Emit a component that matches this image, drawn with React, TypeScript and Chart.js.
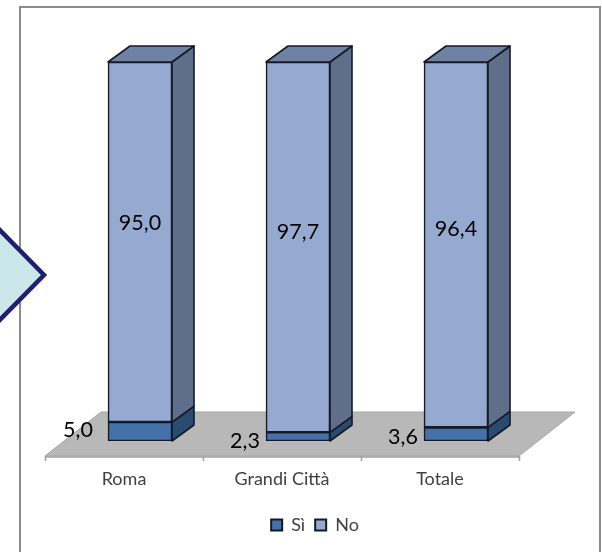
import { useEffect, useRef } from "react";
import { Chart, registerables } from "chart.js";
import type { Plugin } from "chart.js";

Chart.register(...registerables);

// Percentage shares per area, printed with a decimal comma.
const categories = ["Roma", "Grandi Città", "Totale"];
const seriesNames = ["Sì", "No"];
const siValues = [5.0, 2.3, 3.6];
const noValues = [95.0, 97.7, 96.4];

// Nudges for the value labels, relative to the centre of each bar segment.
const siLabelShift = [
  [-62, -1],
  [-53, 4],
  [-53, 3],
];
const noLabelShift = [
  [0, -19],
  [0, -15],
  [0, -16],
];

const FONT = "Lato, 'Open Sans', sans-serif";
const DEPTH_X = 22;
const DEPTH_Y = -16;
const FLOOR_DX = -16;
const FLOOR_DY = 15;

const FRONT = ["#4472A8", "#95A9D1"];
const SIDE = ["#2B4A70", "#5F6F8B"];
const TOP = ["#35598A", "#6F82A4"];
const OUTLINE = "#141A26";

function poly(ctx: CanvasRenderingContext2D, pts: number[][]) {
  ctx.beginPath();
  pts.forEach(([x, y], i) => (i ? ctx.lineTo(x, y) : ctx.moveTo(x, y)));
  ctx.closePath();
}

// Frame, floor plane, axis ticks and the receding faces of each column.
const depthPlugin: Plugin<"bar"> = {
  id: "depth",
  beforeDraw(chart) {
    const { ctx, width, height } = chart;
    ctx.save();
    ctx.fillStyle = "#ffffff";
    ctx.fillRect(0, 0, width, height);
    ctx.strokeStyle = "#8C8C8C";
    ctx.lineWidth = 2;
    ctx.beginPath();
    ctx.moveTo(20, height);
    ctx.lineTo(20, 7);
    ctx.lineTo(600, 7);
    ctx.lineTo(600, height);
    ctx.stroke();
    ctx.restore();
  },
  beforeDatasetsDraw(chart) {
    const { ctx, chartArea } = chart;
    const x0 = chartArea.left + FLOOR_DX;
    const x1 = chartArea.right + FLOOR_DX;
    const y0 = chartArea.bottom + FLOOR_DY;
    const backY = y0 - 44;
    ctx.save();
    poly(ctx, [
      [x0, y0],
      [x1, y0],
      [x1 + 56, backY],
      [x0 + 56, backY],
    ]);
    ctx.fillStyle = "#B8B8B8";
    ctx.fill();
    ctx.strokeStyle = "#A6A6A6";
    ctx.lineWidth = 1;
    ctx.stroke();

    // Category axis along the front edge of the floor.
    ctx.strokeStyle = "#A0A0A0";
    ctx.lineWidth = 1.5;
    ctx.beginPath();
    ctx.moveTo(x0, y0 + 1);
    ctx.lineTo(x1, y0 + 1);
    const step = (x1 - x0) / categories.length;
    for (let i = 0; i <= categories.length; i++) {
      const x = Math.round(x0 + i * step) + 0.5;
      ctx.moveTo(x, y0);
      ctx.lineTo(x, y0 + 5);
    }
    ctx.stroke();

    ctx.strokeStyle = OUTLINE;
    ctx.lineWidth = 1.6;
    ctx.lineJoin = "round";
    chart.data.datasets.forEach((_, di) => {
      chart.getDatasetMeta(di).data.forEach((el: any) => {
        const right = el.x + el.width / 2;
        const left = el.x - el.width / 2;
        poly(ctx, [
          [right, el.y],
          [right + DEPTH_X, el.y + DEPTH_Y],
          [right + DEPTH_X, el.base + DEPTH_Y],
          [right, el.base],
        ]);
        ctx.fillStyle = SIDE[di];
        ctx.fill();
        ctx.stroke();
        if (di === chart.data.datasets.length - 1) {
          poly(ctx, [
            [left, el.y],
            [left + DEPTH_X, el.y + DEPTH_Y],
            [right + DEPTH_X, el.y + DEPTH_Y],
            [right, el.y],
          ]);
          ctx.fillStyle = TOP[di];
          ctx.fill();
          ctx.stroke();
        }
      });
    });
    ctx.restore();
  },
  afterLayout(chart) {
    // Legend sits right of the plot centre, on the lower band of the frame.
    const legend = chart.legend as any;
    legend.left += 17;
    legend.right += 17;
    legend.top -= 8;
    legend.bottom -= 8;
  },
  afterDatasetsDraw(chart) {
    const { ctx } = chart;
    ctx.save();
    ctx.font = `21.5px ${FONT}`;
    ctx.fillStyle = "#000000";
    ctx.textAlign = "center";
    ctx.textBaseline = "middle";
    const fmt = (v: number) => v.toFixed(1).replace(".", ",");
    chart.data.datasets.forEach((ds, di) => {
      const shifts = di === 0 ? siLabelShift : noLabelShift;
      chart.getDatasetMeta(di).data.forEach((el: any, i) => {
        const [dx, dy] = shifts[i];
        ctx.fillText(fmt(ds.data[i] as number), el.x + dx, (el.y + el.base) / 2 + dy);
      });
    });

    // Callout arrow entering from the left edge of the page.
    poly(ctx, [
      [-10, 220],
      [44, 275],
      [-10, 330],
    ]);
    ctx.fillStyle = "#CBE7E9";
    ctx.fill();
    ctx.strokeStyle = "#1F1F6E";
    ctx.lineWidth = 4.5;
    ctx.lineJoin = "miter";
    ctx.stroke();
    ctx.restore();
  },
};

export default function App() {
  const ref = useRef<HTMLCanvasElement>(null);

  useEffect(() => {
    const chart = new Chart(ref.current!, {
      type: "bar",
      data: {
        labels: categories,
        datasets: [siValues, noValues].map((values, i) => ({
          label: seriesNames[i],
          data: values,
          backgroundColor: FRONT[i],
          borderColor: OUTLINE,
          borderWidth: 1.6,
          barThickness: 64,
          borderSkipped: false,
        })),
      },
      options: {
        responsive: false,
        animation: false,
        layout: { padding: { left: 61, right: 67, top: 62, bottom: 0 } },
        scales: {
          x: {
            stacked: true,
            grid: { display: false, drawTicks: false },
            border: { display: false },
            ticks: {
              color: "#404040",
              font: { family: FONT, size: 18 },
              padding: 27,
              labelOffset: FLOOR_DX,
            },
            afterFit(scale: any) {
              scale.height = 73;
            },
          },
          y: { stacked: true, min: 0, max: 100, display: false },
        },
        plugins: {
          title: { display: false },
          tooltip: { enabled: false },
          legend: {
            position: "bottom",
            labels: {
              color: "#404040",
              font: { family: FONT, size: 18 },
              boxWidth: 11,
              boxHeight: 11,
              padding: 10,
              generateLabels(c: Chart) {
                return Chart.defaults.plugins.legend.labels
                  .generateLabels(c)
                  .map((item: any) => ({ ...item, lineWidth: 2 }));
              },
            },
          },
        },
      },
      plugins: [depthPlugin],
    });
    return () => chart.destroy();
  }, []);

  return (
    <canvas
      ref={ref}
      width={602}
      height={552}
      style={{ position: "absolute", left: 0, top: 0, display: "block" }}
    />
  );
}
